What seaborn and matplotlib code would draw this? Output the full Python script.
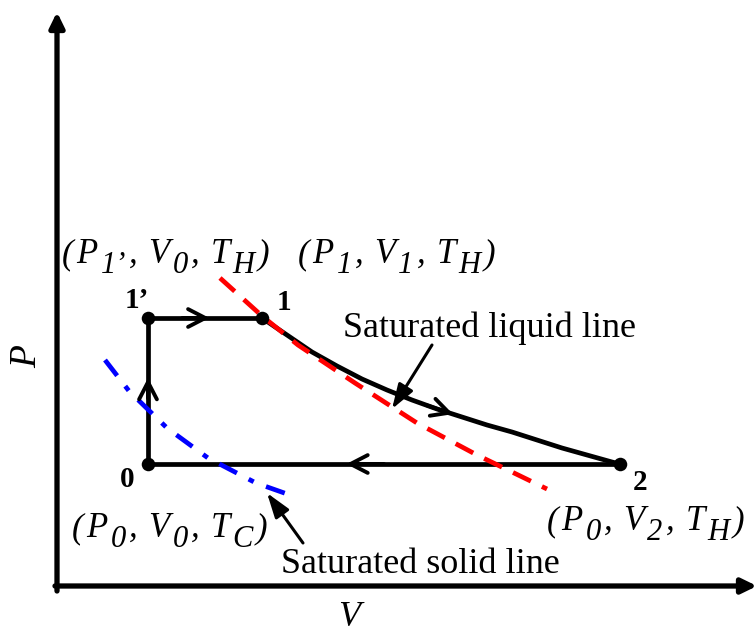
import numpy as np
import pandas as pd
import matplotlib
matplotlib.use("Agg")
import matplotlib.pyplot as plt
import seaborn as sns

# State points of the cycle (V, P in arbitrary units)
state_names = ["0", "1’", "1", "2"]
state_V = [0.91, 0.91, 2.05, 5.63]
state_P = [1.22, 2.68, 2.68, 1.22]

# Expansion 1 -> 2 at T_H
expansion_V = [2.05, 2.30, 2.55, 2.80, 3.05, 3.30, 3.55, 3.80, 4.05, 4.30,
               4.55, 4.80, 5.05, 5.30, 5.55, 5.63]
expansion_P = [2.68, 2.51, 2.34, 2.20, 2.07, 1.96, 1.86, 1.77, 1.69, 1.61,
               1.54, 1.46, 1.38, 1.31, 1.24, 1.22]

# Saturated liquid line
liquid_V = [1.63, 2.05, 2.41, 2.98, 3.60, 4.20, 4.90]
liquid_P = [3.08, 2.70, 2.41, 2.03, 1.63, 1.31, 0.97]

# Saturated solid line
solid_V = [0.48, 0.72, 1.10, 1.51, 1.99, 2.33]
solid_P = [2.26, 1.95, 1.58, 1.28, 1.03, 0.91]

# State descriptions (P, V, T): (text, is_subscript) pieces
state_tags = {
    "1’": [("(", 0), ("P", 0), ("1’", 1), (",", 0), ("V", 0), ("0", 1),
           (",", 0), ("T", 0), ("H", 1), (")", 0)],
    "1": [("(", 0), ("P", 0), ("1", 1), (",", 0), ("V", 0), ("1", 1),
          (",", 0), ("T", 0), ("H", 1), (")", 0)],
    "0": [("(", 0), ("P", 0), ("0", 1), (",", 0), ("V", 0), ("0", 1),
          (",", 0), ("T", 0), ("C", 1), (")", 0)],
    "2": [("(", 0), ("P", 0), ("0", 1), (",", 0), ("V", 0), ("2", 1),
          (",", 0), ("T", 0), ("H", 1), (")", 0)],
}

sns.set_theme(style="white")
plt.rcParams["font.family"] = ["Liberation Serif", "DejaVu Serif"]
plt.rcParams["text.color"] = "black"

fig = plt.figure(figsize=(7.54, 6.36), dpi=100)
ax = fig.add_axes([0, 0, 1, 1])
ax.set_xlim(-0.57, 6.97)
ax.set_ylim(-0.50, 5.86)
ax.axis("off")

BLACK = "#000000"
LW = 3.4

# Coordinate axes with arrow heads
axis_arrow = dict(arrowstyle="-|>,head_length=0.45,head_width=0.22",
                  mutation_scale=20, lw=3.8, color=BLACK, shrinkA=0, shrinkB=0)
ax.annotate("", xy=(0, 5.74), xytext=(0, -0.05), arrowprops=axis_arrow,
            annotation_clip=False)
ax.annotate("", xy=(7.00, 0), xytext=(-0.02, 0), arrowprops=axis_arrow,
            annotation_clip=False)
ax.text(-0.30, 2.29, "P", rotation=90, fontsize=27, style="italic",
        ha="center", va="center")
ax.text(2.92, -0.32, "V", fontsize=26, style="italic", ha="center", va="center")

# Cycle: 0 -> 1' -> 1 (straight), 1 -> 2 (curve), 2 -> 0 (straight)
pts = dict(zip(state_names, zip(state_V, state_P)))
path_V = [pts["0"][0], pts["1’"][0], pts["1"][0]]
path_P = [pts["0"][1], pts["1’"][1], pts["1"][1]]
sns.lineplot(x=path_V, y=path_P, sort=False, estimator=None, color=BLACK,
             lw=LW, ax=ax, solid_capstyle="round", solid_joinstyle="round")
sns.lineplot(x=expansion_V, y=expansion_P, sort=False, estimator=None,
             color=BLACK, lw=LW, ax=ax, solid_capstyle="round",
             solid_joinstyle="round")
sns.lineplot(x=[pts["2"][0], pts["0"][0]], y=[pts["2"][1], pts["0"][1]],
             sort=False, estimator=None, color=BLACK, lw=LW, ax=ax)

# Saturation lines
sns.lineplot(x=liquid_V, y=liquid_P, sort=False, estimator=None,
             color="#ff0000", lw=3.4, ax=ax, linestyle=(0, (4.2, 2.6)),
             dash_capstyle="butt")
sns.lineplot(x=solid_V, y=solid_P, sort=False, estimator=None,
             color="#0000ff", lw=3.4, ax=ax, linestyle=(0, (4.2, 2.8, 1.2, 2.8)),
             dash_capstyle="butt")

# Direction chevrons along each process
def chevron(tip, tail):
    ax.annotate("", xy=tip, xytext=tail,
                arrowprops=dict(arrowstyle="->,head_length=0.62,head_width=0.32",
                                mutation_scale=20, lw=2.8, color=BLACK,
                                shrinkA=0, shrinkB=0))

def along(a, b, frac):
    return (a[0] + (b[0] - a[0]) * frac, a[1] + (b[1] - a[1]) * frac)

chevron(along(pts["0"], pts["1’"], 0.59), along(pts["0"], pts["1’"], 0.45))
chevron(along(pts["1’"], pts["1"], 0.54), along(pts["1’"], pts["1"], 0.30))
chevron(along(pts["2"], pts["0"], 0.58), along(pts["2"], pts["0"], 0.50))
v_tip, v_tail = 3.96, 3.70
chevron((v_tip, np.interp(v_tip, expansion_V, expansion_P)),
        (v_tail, np.interp(v_tail, expansion_V, expansion_P)))

# State points
sns.scatterplot(x=state_V, y=state_P, color=BLACK, s=95, ax=ax,
                edgecolor=BLACK, linewidth=0, zorder=5)

# Point numbers
num_pos = {"1’": (0.80, 2.78), "1": (2.27, 2.76), "0": (0.70, 0.99), "2": (5.83, 0.96)}
for name in state_names:
    x, y = num_pos[name]
    ax.text(x, y, name, fontsize=21, fontweight="bold", ha="center", va="baseline")

# State descriptions, written piece by piece so subscripts stay large
MAIN_SIZE, SUB_SIZE = 25, 22
GAP, COMMA_SPACE, SUB_DROP = 2.0, 6.0, -7.0

def write_state(x0, y0, pieces):
    prev = None
    extra = 0.0
    for text, is_sub in pieces:
        size = SUB_SIZE if is_sub else MAIN_SIZE
        dy = SUB_DROP if is_sub else 0.0
        if prev is None:
            prev = ax.text(x0, y0, text, fontsize=size, style="italic",
                           ha="left", va="baseline")
        else:
            prev = ax.annotate(text, xy=(1, y0), xycoords=(prev, "data"),
                               xytext=(GAP + extra, dy), textcoords="offset points",
                               fontsize=size, style="italic",
                               ha="left", va="baseline")
        extra = COMMA_SPACE if text == "," else 0.0

tag_pos = {"1’": (0.05, 3.23), "1": (2.41, 3.23), "0": (0.15, 0.49), "2": (4.90, 0.56)}
for name in state_names:
    x, y = tag_pos[name]
    write_state(x, y, state_tags[name])

# Callouts for the saturation lines
callout = dict(arrowstyle="-|>,head_length=0.75,head_width=0.25",
               mutation_scale=20, lw=2.2, color=BLACK, shrinkA=0, shrinkB=0)
ax.text(4.32, 2.49, "Saturated liquid line", fontsize=26, ha="center", va="baseline")
ax.annotate("", xy=(3.35, 1.77), xytext=(3.75, 2.41), arrowprops=callout)
ax.text(3.635, 0.13, "Saturated solid line", fontsize=26, ha="center", va="baseline")
ax.annotate("", xy=(2.10, 0.93), xytext=(2.46, 0.43), arrowprops=callout)

fig.savefig("out.png", dpi=100)
